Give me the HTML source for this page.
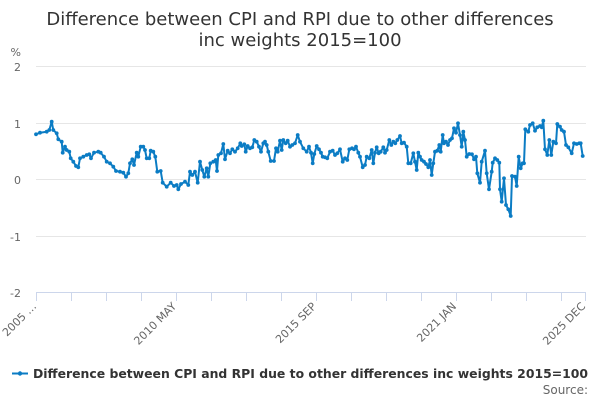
<!DOCTYPE html>
<html>
<head>
<meta charset="utf-8">
<style>
html,body{margin:0;padding:0;background:#fff;}
svg{display:block;font-family:"DejaVu Sans","Liberation Sans",sans-serif;}
</style>
</head>
<body>
<svg width="600" height="400" viewBox="0 0 600 400" xmlns="http://www.w3.org/2000/svg">
<defs>
<marker id="m" markerWidth="5" markerHeight="5" refX="2.5" refY="2.5" markerUnits="userSpaceOnUse">
<circle cx="2.5" cy="2.5" r="1.9" fill="#0b7cc4"/>
</marker>
</defs>
<rect width="600" height="400" fill="#fff"/>
<text x="300" y="25" text-anchor="middle" font-size="18" fill="#333">Difference between CPI and RPI due to other differences</text>
<text x="300" y="46" text-anchor="middle" font-size="18" fill="#333">inc weights 2015=100</text>

<g stroke="#e6e6e6" stroke-width="1">
<line x1="36" y1="66.5" x2="586" y2="66.5"/>
<line x1="36" y1="123.5" x2="586" y2="123.5"/>
<line x1="36" y1="179.5" x2="586" y2="179.5"/>
<line x1="36" y1="236.5" x2="586" y2="236.5"/>
</g>
<line x1="36" y1="292.5" x2="586" y2="292.5" stroke="#ccd6eb" stroke-width="1"/>
<g stroke="#ccd6eb" stroke-width="1">
<line x1="36.5" y1="292" x2="36.5" y2="301"/>
<line x1="71.5" y1="292" x2="71.5" y2="301"/>
<line x1="106.5" y1="292" x2="106.5" y2="301"/>
<line x1="141.5" y1="292" x2="141.5" y2="301"/>
<line x1="176.5" y1="292" x2="176.5" y2="301"/>
<line x1="211.5" y1="292" x2="211.5" y2="301"/>
<line x1="246.5" y1="292" x2="246.5" y2="301"/>
<line x1="281.5" y1="292" x2="281.5" y2="301"/>
<line x1="316.5" y1="292" x2="316.5" y2="301"/>
<line x1="351.5" y1="292" x2="351.5" y2="301"/>
<line x1="386.5" y1="292" x2="386.5" y2="301"/>
<line x1="421.5" y1="292" x2="421.5" y2="301"/>
<line x1="456.5" y1="292" x2="456.5" y2="301"/>
<line x1="491.5" y1="292" x2="491.5" y2="301"/>
<line x1="526.5" y1="292" x2="526.5" y2="301"/>
<line x1="561.5" y1="292" x2="561.5" y2="301"/>
<line x1="585.5" y1="292" x2="585.5" y2="301"/>
</g>

<g font-size="11" fill="#666" text-anchor="end">
<text x="21" y="56">%</text>
<text x="21" y="71">2</text>
<text x="21" y="128">1</text>
<text x="21" y="184">0</text>
<text x="21" y="241">-1</text>
<text x="21" y="297">-2</text>
</g>
<g font-size="11" fill="#666" text-anchor="end">
<text transform="translate(37,307) rotate(-45)">2005 …</text>
<text transform="translate(177,307) rotate(-45)">2010 MAY</text>
<text transform="translate(317,307) rotate(-45)">2015 SEP</text>
<text transform="translate(457,307) rotate(-45)">2021 JAN</text>
<text transform="translate(586,307) rotate(-45)">2025 DEC</text>
</g>

<polyline fill="none" stroke="#0b7cc4" stroke-width="2" stroke-linejoin="round" stroke-linecap="round"
marker-start="url(#m)" marker-mid="url(#m)" marker-end="url(#m)"
points="36,134.3 40,132.7 46.7,131.7 49.3,130 51.7,121.7 53.3,130 56.7,133.3 58.3,139.3 61.7,141.7 62.7,152.7 65,146.7 66.7,150 69.3,151.7 70.7,158.3 73.3,161.7 76,166 78.3,167.3 80,158.3 83.3,156.7 86.7,155 89.3,154.3 91,158.3 94,152.7 98.3,151.7 100.7,152.7 104,156.7 106.7,161.7 110,163.3 113.3,166.7 116,171 120,171.7 123.3,172.7 126,176.7 128.3,173.3 130,163.3 132.3,159.3 134,165 136.7,152.7 138.3,156.7 140.7,146.7 143.3,146.7 145,150 146.7,158.3 149.3,158.3 150.7,150.7 153.3,151.7 155.3,156.7 157.3,171.7 160.7,171 162.7,182.7 166.7,186.7 170.7,182.7 174,186 176.7,185 178.3,189.3 181,184 185,181.7 188.3,185 190,171.7 192.3,175 195,171.7 197.7,182.7 200,161.7 202.3,170 204.3,176.7 206.7,168.3 208.3,176.7 210.3,163.3 213.3,161.7 215.7,160 217,171 218.3,155 221,153.3 223.3,144 225,159.3 227.7,150.7 230,153.3 232.3,149.3 235,151.7 237.7,148.3 240.3,143.3 241.7,146 244.3,144.3 245.7,151.7 247.7,146 250,148.3 252.3,147.3 254.3,140 256.7,141.7 259,146.7 261,151.7 263.3,143.3 265,141.7 266.7,145 268.3,151.7 270.7,161 274,161 276,148.3 277.7,151.7 280,140.7 281.7,150 283.3,140 285.7,143.3 287.7,140.7 290,146.7 292.3,145 295,143.3 297.7,135 300,141.7 303.3,148.3 306.7,151.7 309,146.7 311,152.7 312.7,163.3 314.3,154 316.7,146 319,149.3 321,152.7 322.7,156.7 325,157.3 327.3,158.3 330,151.7 332.7,150.7 335,155 337.3,153.3 340,149.3 342.7,161.7 345,158.3 347.3,160 349.3,149.3 352,148.3 354,149.3 356,146.7 358.3,152.7 360,156.7 362.7,167.3 365,165 366.7,156.7 369.3,158.3 371.7,150 373.3,163.3 375,152.7 376.7,147.3 378.7,153.3 380.7,151.7 383.3,147.3 385,152.7 386.7,150 389.3,140 391.3,145 393.3,141.7 395.3,143.3 397.3,140 400,136 401.7,143.3 404,142.7 406.7,146.7 408.3,163.3 410.7,163.3 413.3,153.3 415,161.7 416.7,170 418.3,152.7 420,156.7 421.7,160 424,161.7 426,164 428.3,167.3 430,160 431.7,175 433.3,163.3 435,151.7 437.3,150.7 439.3,145 440.7,151.7 442.7,135 444,143.3 446,141.7 448,145 450,140 452,138.3 454,128.3 456,132.7 458,123.3 460,135 461.7,146.7 463.3,131.7 465,140 466.7,156.7 469.3,154 472,154.3 474,159.3 476,156.7 477.3,173.3 480,182.7 481.7,161.7 485,150.7 486.7,173.3 489,189.3 491.7,171.7 492.7,162.7 495,158.3 497.3,160 499.3,162.7 500,189.3 501.7,201.7 504,178.3 506,205 508.3,209.3 510.7,216 512,176 515,176.7 516.7,186 518.7,156.7 520.7,168.3 522.7,163.3 524,163.3 525.3,129.3 528.3,131.7 530,125 532.7,123.3 535,130.7 537.3,127.3 540,126 541.7,127.3 543.3,120.7 545,149.3 547.3,155 549.3,140 551.3,155 553.3,141.7 556,143.3 557.3,124 560,126.7 561.7,130 564,131.7 566,145 568.3,147.3 571.7,153.3 574,143.3 576.7,144 579.3,143.3 580.7,143.3 582.7,156"/>

<line x1="12" y1="373.5" x2="28" y2="373.5" stroke="#0b7cc4" stroke-width="2"/>
<circle cx="20" cy="373.5" r="2.2" fill="#0b7cc4"/>
<text x="33" y="378" font-size="12.4" font-weight="bold" fill="#333" textLength="555" lengthAdjust="spacingAndGlyphs">Difference between CPI and RPI due to other differences inc weights 2015=100</text>
<text x="588" y="394" font-size="12" fill="#666" text-anchor="end">Source:</text>
</svg>
</body>
</html>
